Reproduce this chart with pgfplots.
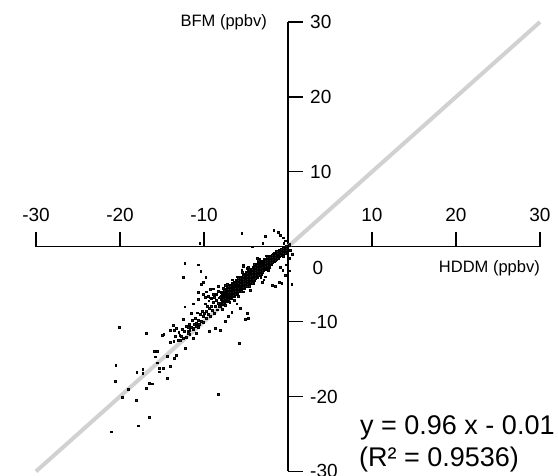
\documentclass[border=0pt]{standalone}
\usepackage{pgfplots}
\pgfplotsset{compat=1.18}
\usepackage{fontspec}
\setmainfont{Liberation Sans}
\begin{document}
\begin{tikzpicture}
\path[use as bounding box] (-288pt,-229.3pt) rectangle (270pt,246.7pt);
\begin{axis}[
  at={(0,0)}, anchor=origin,
  scale only axis, width=504pt, height=449.4pt,
  xmin=-30,xmax=30,ymin=-30,ymax=30,
  axis lines=middle,
  axis line style={-, line width=1.3pt, black},
  xtick={-30,-20,-10,10,20,30}, xticklabels={-30,-20,-10,10,20,30},
  ytick={-30,-20,-10,10,20,30}, yticklabels={-30,-20,-10,10,20,30},
  tick align=inside,
  major tick length=15pt,
  tick style={line width=1.3pt, black},
  tick label style={font=\fontsize{19}{22}\selectfont, inner sep=0pt},
  xticklabel style={anchor=base, yshift=25pt},
  yticklabel style={anchor=west, xshift=22pt},
  clip=false,
]
\addplot[black!18, line width=4pt] coordinates {(-30,-30) (30,30)};
\addplot[only marks, mark=square*, mark size=0.9pt, mark options={draw=none, fill=black!85}] coordinates {
(-0.1,0)(-0.1,-0.25)(-0.3,-0.2)(-0.5,-0.4)(-0.7,-0.6)(-0.9,-0.8)(0.3,-0.5)(0.2,0.3)(0.5,-1.0)(0.1,0.15)
(-0.2,-0.45)(-0.2,-0.15)(-0.2,0.1)
(-0.4,-0.6)(-0.4,-0.3)(-0.4,-0.05)
(-0.6,-0.85)(-0.6,-0.5)(-0.6,-0.2)
(-0.8,-1.05)(-0.8,-0.75)(-0.8,-0.45)(-0.8,-0.3)
(-1.0,-1.25)(-1.0,-0.95)(-1.0,-0.65)(-1.0,-0.45)
(-1.2,-1.6)(-1.2,-1.25)(-1.2,-0.9)(-1.2,-0.55)
(-1.4,-1.65)(-1.4,-1.3)(-1.4,-0.95)(-1.4,-0.65)
(-1.6,-1.95)(-1.6,-1.6)(-1.6,-1.25)(-1.6,-0.9)
(-1.8,-2.0)(-1.8,-1.65)(-1.8,-1.3)(-1.8,-1.0)
(-2.0,-2.3)(-2.0,-1.95)(-2.0,-1.6)(-2.0,-1.2)
(-2.2,-2.7)(-2.2,-2.3)(-2.2,-1.95)(-2.2,-1.6)(-2.2,-1.25)
(-2.4,-2.7)(-2.4,-2.3)(-2.4,-1.95)(-2.4,-1.6)(-2.4,-1.3)
(-2.6,-3.05)(-2.6,-2.65)(-2.6,-2.3)(-2.6,-1.95)(-2.6,-1.6)
(-2.8,-3.05)(-2.8,-2.65)(-2.8,-2.3)(-2.8,-1.95)(-2.8,-1.65)
(-3.0,-3.4)(-3.0,-3.0)(-3.0,-2.65)(-3.0,-2.3)(-3.0,-1.95)
(-3.2,-3.75)(-3.2,-3.35)(-3.2,-3.0)(-3.2,-2.65)(-3.2,-2.3)(-3.2,-1.9)
(-3.4,-3.8)(-3.4,-3.4)(-3.4,-3.05)(-3.4,-2.7)(-3.4,-2.3)(-3.4,-2.0)
(-3.6,-4.1)(-3.6,-3.7)(-3.6,-3.35)(-3.6,-3.0)(-3.6,-2.65)(-3.6,-2.25)
(-3.8,-4.15)(-3.8,-3.75)(-3.8,-3.4)(-3.8,-3.05)(-3.8,-2.65)(-3.8,-2.35)
(-4.0,-4.45)(-4.0,-4.05)(-4.0,-3.7)(-4.0,-3.35)(-4.0,-3.0)(-4.0,-2.6)
(-4.2,-4.5)(-4.2,-4.1)(-4.2,-3.75)(-4.2,-3.4)(-4.2,-3.0)(-4.2,-2.7)
(-4.4,-4.8)(-4.4,-4.4)(-4.4,-4.05)(-4.4,-3.7)(-4.4,-3.35)(-4.4,-2.95)
(-4.6,-4.85)(-4.6,-4.45)(-4.6,-4.1)(-4.6,-3.75)(-4.6,-3.35)(-4.6,-3.05)
(-4.8,-5.15)(-4.8,-4.75)(-4.8,-4.4)(-4.8,-4.05)(-4.8,-3.7)(-4.8,-3.3)
(-5.0,-5.2)(-5.0,-4.8)(-5.0,-4.45)(-5.0,-4.1)(-5.0,-3.7)(-5.0,-3.4)
(-5.2,-5.5)(-5.2,-5.1)(-5.2,-4.75)(-5.2,-4.4)(-5.2,-4.05)(-5.2,-3.65)
(-5.4,-5.55)(-5.4,-5.15)(-5.4,-4.8)(-5.4,-4.45)(-5.4,-4.05)(-5.4,-3.75)
(-5.6,-5.9)(-5.6,-5.5)(-5.6,-5.1)(-5.6,-4.8)(-5.6,-4.45)(-5.6,-4.05)
(-5.8,-5.9)(-5.8,-5.5)(-5.8,-5.15)(-5.8,-4.8)(-5.8,-4.4)(-5.8,-4.1)
(-6.0,-6.25)(-6.0,-5.85)(-6.0,-5.5)(-6.0,-5.15)(-6.0,-4.8)(-6.0,-4.4)
(-6.2,-6.25)(-6.2,-5.85)(-6.2,-5.5)(-6.2,-5.15)(-6.2,-4.75)(-6.2,-4.45)
(-6.4,-6.6)(-6.4,-6.2)(-6.4,-5.85)(-6.4,-5.5)(-6.4,-5.15)(-6.4,-4.75)
(-6.6,-6.6)(-6.6,-6.2)(-6.6,-5.85)(-6.6,-5.5)(-6.6,-5.1)(-6.6,-4.8)
(-6.8,-6.95)(-6.8,-6.55)(-6.8,-6.2)(-6.8,-5.85)(-6.8,-5.5)(-6.8,-5.1)
(-7.0,-6.95)(-7.0,-6.55)(-7.0,-6.2)(-7.0,-5.85)(-7.0,-5.45)(-7.0,-5.15)
(-7.2,-7.25)(-7.2,-6.8)(-7.2,-6.35)(-7.2,-5.95)(-7.2,-5.5)
(-7.4,-7.3)(-7.4,-6.85)(-7.4,-6.5)(-7.4,-6.1)(-7.4,-5.6)
(-7.6,-7.6)(-7.6,-7.1)(-7.6,-6.7)(-7.6,-6.25)(-7.6,-5.8)
(-7.8,-7.7)(-7.8,-7.25)(-7.8,-6.85)(-7.8,-6.4)(-7.8,-6.0)
(-8.0,-8.0)(-8.0,-7.5)(-8.0,-7.0)(-8.0,-6.6)(-8.0,-6.1)
(-1.1,-1.4)(-1.1,-1.1)(-1.1,-0.8)(-1.1,-0.55)
(-1.3,-1.5)(-1.3,-1.2)(-1.3,-0.9)(-1.3,-0.65)
(-1.5,-1.75)(-1.5,-1.45)(-1.5,-1.1)(-1.5,-0.8)
(-1.7,-1.95)(-1.7,-1.6)(-1.7,-1.3)(-1.7,-0.95)
(-1.9,-2.1)(-1.9,-1.8)(-1.9,-1.45)(-1.9,-1.15)
(-2.1,-2.4)(-2.1,-2.05)(-2.1,-1.75)(-2.1,-1.4)
(-2.3,-2.6)(-2.3,-2.2)(-2.3,-1.85)(-2.3,-1.5)
(-2.5,-2.8)(-2.5,-2.45)(-2.5,-2.1)(-2.5,-1.75)(-2.5,-1.45)
(-2.7,-2.95)(-2.7,-2.6)(-2.7,-2.25)(-2.7,-1.9)
(-2.9,-3.2)(-2.9,-2.8)(-2.9,-2.45)(-2.9,-2.1)(-2.9,-1.8)
(-3.1,-3.45)(-3.1,-3.1)(-3.1,-2.75)(-3.1,-2.4)(-3.1,-2.0)
(-3.3,-3.65)(-3.3,-3.25)(-3.3,-2.9)(-3.3,-2.55)(-3.3,-2.15)
(-3.5,-3.85)(-3.5,-3.45)(-3.5,-3.1)(-3.5,-2.75)(-3.5,-2.35)
(-3.7,-4.0)(-3.7,-3.6)(-3.7,-3.25)(-3.7,-2.9)(-3.7,-2.5)
(-3.9,-4.2)(-3.9,-3.8)(-3.9,-3.45)(-3.9,-3.1)(-3.9,-2.7)
(-4.1,-4.35)(-4.1,-3.95)(-4.1,-3.6)(-4.1,-3.25)(-4.1,-2.85)
(-4.3,-4.55)(-4.3,-4.15)(-4.3,-3.8)(-4.3,-3.45)(-4.3,-3.05)
(-4.5,-4.7)(-4.5,-4.3)(-4.5,-3.95)(-4.5,-3.6)(-4.5,-3.2)
(-4.7,-4.9)(-4.7,-4.5)(-4.7,-4.15)(-4.7,-3.8)(-4.7,-3.4)
(-4.9,-5.05)(-4.9,-4.65)(-4.9,-4.3)(-4.9,-3.95)(-4.9,-3.55)
(-5.1,-5.25)(-5.1,-4.85)(-5.1,-4.5)(-5.1,-4.15)(-5.1,-3.75)
(-5.3,-5.4)(-5.3,-5.0)(-5.3,-4.65)(-5.3,-4.3)(-5.3,-3.9)
(-5.5,-5.6)(-5.5,-5.2)(-5.5,-4.85)(-5.5,-4.5)(-5.5,-4.1)
(-5.7,-5.75)(-5.7,-5.35)(-5.7,-5.0)(-5.7,-4.65)(-5.7,-4.25)
(-5.9,-5.95)(-5.9,-5.55)(-5.9,-5.2)(-5.9,-4.85)(-5.9,-4.45)
(-6.1,-6.1)(-6.1,-5.7)(-6.1,-5.35)(-6.1,-5.0)(-6.1,-4.6)
(-6.3,-6.3)(-6.3,-5.9)(-6.3,-5.55)(-6.3,-5.2)(-6.3,-4.8)
(-6.5,-6.45)(-6.5,-6.05)(-6.5,-5.7)(-6.5,-5.35)(-6.5,-4.95)
(-6.7,-6.65)(-6.7,-6.25)(-6.7,-5.9)(-6.7,-5.55)(-6.7,-5.15)
(-6.9,-6.8)(-6.9,-6.4)(-6.9,-6.05)(-6.9,-5.7)(-6.9,-5.3)
(-7.1,-7.0)(-7.1,-6.55)(-7.1,-6.1)(-7.1,-5.7)
(-7.3,-7.1)(-7.3,-6.65)(-7.3,-6.25)(-7.3,-5.8)
(-7.5,-7.35)(-7.5,-6.85)(-7.5,-6.4)(-7.5,-6.0)
(-7.7,-7.5)(-7.7,-7.0)(-7.7,-6.55)(-7.7,-6.15)
(-7.9,-7.75)(-7.9,-7.2)(-7.9,-6.7)(-7.9,-6.3)
(-2.35,-3.1)(-3.25,-4.05)(-4.15,-4.9)(-4.65,-5.3)(-5.35,-6.0)(-5.95,-6.6)(-6.45,-7.1)(-6.95,-7.4)(-7.45,-7.8)(-7.85,-8.3)
(-2.55,-1.2)(-3.45,-1.7)(-4.05,-2.3)(-4.85,-2.9)(-5.45,-3.4)(-6.05,-4.0)(-6.65,-4.4)(-7.25,-5.0)(-7.75,-5.5)(-8.3,-5.9)(-8.9,-6.3)(-9.5,-6.6)
(-8.15,-7.9)(-8.25,-6.8)(-8.35,-7.5)(-8.45,-8.4)(-8.5,-6.3)(-8.55,-7.1)(-8.65,-7.95)(-8.75,-6.7)(-8.8,-8.9)(-8.9,-7.4)
(-9.05,-8.5)(-9.1,-6.9)(-9.15,-7.9)(-9.25,-9.3)(-9.35,-8.2)(-9.45,-7.2)(-9.5,-9.0)(-9.6,-7.9)(-9.7,-8.6)(-9.75,-9.6)
(-9.85,-7.6)(-9.95,-8.9)(-10.05,-10.1)(-10.1,-9.3)(-10.25,-8.6)(-10.35,-10.0)(-10.45,-9.0)(-10.55,-10.4)(-10.7,-9.8)(-10.8,-8.8)
(-10.9,-10.6)(-11.05,-9.5)(-11.15,-10.3)(-11.25,-11.0)(-11.4,-9.8)(-11.5,-10.7)(-11.7,-11.7)(-11.8,-10.3)(-11.95,-11.3)(-12.15,-10.6)
(-12.4,-11.3)(-12.6,-11.0)(-12.8,-12.5)(-13.0,-11.4)(-13.4,-12.0)
(-1.7,2.2)(-1.2,1.9)(-0.95,1.56)(-0.6,1.2)(-5.5,1.8)(-2.7,1.4)(-3.0,0.5)(-4.3,0.0)(-10.5,0.5)(-0.3,0.8)(-0.5,0.5)
(-12.3,-2.2)(-10.7,-2.4)(-12.5,-4.1)(-10.3,-5.0)(-9.8,-4.1)(-5.3,-2.6)(-9.3,-5.7)(-10.7,-6.1)(-10.1,-6.3)(-11.3,-7.6)
(-12.3,-8.0)(-11.5,-8.9)(-10.7,-7.0)(-12.5,-9.7)(-11.9,-10.7)(-13.7,-10.5)(-13.5,-11.1)(-14.8,-11.7)(-9.4,-11.3)(-8.7,-10.9)
(-8.1,-11.1)(-7.5,-10.0)(-7.1,-9.3)(-6.7,-8.7)(-6.1,-7.6)(-5.7,-8.2)(-4.9,-8.9)(-4.7,-9.6)(-5.1,-9.7)(-5.8,-12.9)
(-0.75,-4.9)(-1.0,-4.7)(-1.5,-5.3)(-1.9,-5.1)(-2.9,-4.4)(-3.1,-4.7)(-2.7,-4.0)(-4.5,-5.8)(-4.9,-5.3)(-5.3,-4.9)
(-4.3,-4.9)(-5.7,-4.4)(-5.9,-4.2)(-6.5,-5.6)(-7.1,-5.3)(-7.5,-5.1)(-9.7,-6.0)(-8.9,-5.6)(-8.3,-5.3)(-8.1,-6.7)
(-8.7,-6.4)(-9.3,-6.8)(-9.9,-6.7)(-10.1,-4.7)(-10.4,-3.3)(-5.3,-2.4)(-4.7,-2.7)(-5.5,-3.1)(-3.7,-1.5)(-3.5,-1.8)
(-0.95,-1.1)(-0.6,-1.3)(-0.35,-0.9)(-0.24,-2.4)(-0.63,-3.1)(-0.36,-3.8)(0.44,-5.0)(-0.95,-2.7)(0.2,-1.5)(0.1,-3.2)
(-20.1,-10.7)(-16.9,-11.6)(-20.5,-15.8)(-20.6,-18)(-19,-19)(-19.7,-20.1)(-18.1,-20.5)(-16.9,-18.9)(-16.5,-18.2)(-16.2,-18.3)
(-18,-16.8)(-17.3,-16.4)(-17.3,-16.9)(-15.9,-14.0)(-15.6,-14.0)(-15.8,-14.7)(-15.6,-15.5)(-15.3,-16.2)(-15.3,-16.7)(-14.9,-16.2)
(-14.4,-14.6)(-14,-16)(-14.4,-17.6)(-13.3,-14.5)(-13.5,-14.9)(-15,-11.8)(-14,-11.1)(-13.7,-10.5)(-13.3,-10.9)(-12.9,-11.8)
(-12.7,-12.0)(-14,-12.7)(-13.6,-12.6)(-13.1,-12.5)(-12.5,-12.2)(-12.1,-12.1)(-11.9,-11.6)(-11.7,-11.1)(-11.3,-10.9)(-10.9,-10.2)
(-10.7,-10.7)(-10.9,-11.6)(-11.3,-12.2)(-16.5,-22.8)(-17.8,-23.9)(-21,-24.7)(-8.3,-19.7)(-12.2,-13.5)
};
\node[anchor=east, font=\fontsize{16.5}{18}\selectfont, inner sep=0pt] at (axis cs:-2.5,30) {BFM (ppbv)};
\node[anchor=east, font=\fontsize{16.5}{18}\selectfont, inner sep=0pt] at (axis cs:30,-2.84) {HDDM (ppbv)};
\node[font=\fontsize{19}{22}\selectfont, inner sep=0pt] at (axis cs:3.57,-2.84) {0};
\node[anchor=base west, font=\fontsize{27}{30}\selectfont, inner sep=0pt] at (axis cs:8.57,-25.13) {y = 0.96 x - 0.01};
\node[anchor=base west, font=\fontsize{27}{30}\selectfont, inner sep=0pt] at (axis cs:8.45,-29.28) {(R² = 0.9536)};
\end{axis}
\end{tikzpicture}
\end{document}
